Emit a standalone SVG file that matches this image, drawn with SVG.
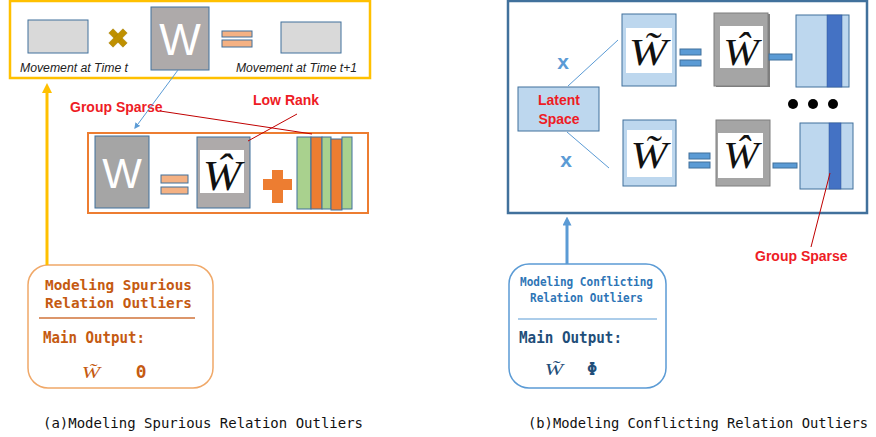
<svg xmlns="http://www.w3.org/2000/svg" width="876" height="437" viewBox="0 0 876 437">
<defs>
<style>
.lbl{font-family:"Liberation Sans",Arial,sans-serif;font-style:italic;font-size:12px;fill:#222}
.red{font-family:"Liberation Sans",Arial,sans-serif;font-weight:bold;font-size:14px;fill:#EE1C25}
.bigW{font-family:"Liberation Sans",Arial,sans-serif;fill:#fff;text-anchor:middle}
.math{font-family:"Liberation Serif","Times New Roman",serif;font-style:italic;fill:#111;text-anchor:middle}
.mono{font-family:"DejaVu Sans Mono","Liberation Mono",monospace;font-weight:bold}
.cap{font-family:"DejaVu Sans Mono","Liberation Mono",monospace;font-size:14px;fill:#111}
.gray1{fill:#D9D9D9;stroke:#41719C;stroke-width:1}
.wbox{fill:#AEAAAA;stroke:#41719C;stroke-width:1}
.eqO{fill:#F4B183;stroke:#41719C;stroke-width:1}
.eqB{fill:#5B9BD5;stroke:#41719C;stroke-width:1}
.lb{fill:#BDD7EE;stroke:#41719C;stroke-width:1}
.gb{fill:#A5A5A5;stroke:#7F7F7F;stroke-width:1}
.wh{fill:#fff}
.redline{stroke:#C00000;stroke-width:1;fill:none}
.blueline{stroke:#5B9BD5;stroke-width:1;fill:none}
.xb{font-family:"Liberation Sans",Arial,sans-serif;font-weight:bold;font-size:21px;fill:#5B9BD5;text-anchor:middle}
</style>
<marker id="arrGold" markerUnits="userSpaceOnUse" markerWidth="10" markerHeight="10" viewBox="0 0 10 10" refX="5" refY="5" orient="auto"><path d="M0,0 L10,5 L0,10 z" fill="#FFC000"/></marker>
<marker id="arrBlue" markerUnits="userSpaceOnUse" markerWidth="9" markerHeight="9" viewBox="0 0 10 10" refX="5" refY="5" orient="auto"><path d="M0,0 L10,5 L0,10 z" fill="#5B9BD5"/></marker>
<marker id="arrThin" markerUnits="userSpaceOnUse" markerWidth="6" markerHeight="6" viewBox="0 0 10 10" refX="8" refY="5" orient="auto"><path d="M0,0 L10,5 L0,10 z" fill="#5B9BD5"/></marker>
</defs>
<rect width="876" height="437" fill="#fff"/>

<!-- Panel (a) -->
<g id="panel-a-top">
<rect x="10" y="1" width="360" height="77" fill="#fff" stroke="#FFC000" stroke-width="2.5"/>
</g>
<g id="move-t">
<rect class="gray1" x="28" y="20" width="60" height="33"/>
<text class="lbl" x="20" y="72" textLength="108" lengthAdjust="spacingAndGlyphs">Movement at Time t</text>
</g>
<g id="times-gold" transform="translate(118,38) rotate(45)">
<rect x="-10" y="-3" width="20" height="6" fill="#BF9000" stroke="#A37C00" stroke-width="0.5"/>
<rect x="-3" y="-10" width="6" height="20" fill="#BF9000" stroke="#A37C00" stroke-width="0.5"/>
</g>
<g id="W-top">
<rect class="wbox" x="151" y="7" width="58" height="63"/>
<text class="bigW" x="180" y="55" font-size="44">W</text>
</g>
<g id="eq-top">
<rect class="eqO" x="222" y="31" width="30" height="6"/>
<rect class="eqO" x="222" y="40" width="30" height="7"/>
</g>
<g id="move-t1">
<rect class="gray1" x="281" y="22" width="60" height="31"/>
<text class="lbl" x="236" y="72" textLength="121" lengthAdjust="spacingAndGlyphs">Movement at Time t+1</text>
</g>

<g id="panel-a-mid">
<rect x="88" y="133" width="280" height="80" fill="#fff" stroke="#ED7D31" stroke-width="2"/>
</g>
<g id="W-mid">
<rect x="95" y="136" width="54" height="72" fill="#A5A5A5" stroke="#41719C"/>
<text class="bigW" x="122" y="188" font-size="42">W</text>
</g>
<g id="eq-mid">
<rect class="eqO" x="161" y="175" width="27" height="8"/>
<rect class="eqO" x="161" y="187" width="27" height="7"/>
</g>
<g id="What-mid">
<rect class="wbox" x="197" y="137" width="53" height="71"/>
<rect class="wh" x="200" y="150" width="44" height="43"/>
<text class="math" transform="translate(222,190) scale(1.1,1)" font-size="42">Ŵ</text>
</g>
<g id="plus">
<path d="M272,170 H283 V179 H292 V190 H283 V203 H272 V190 H263 V179 H272 Z" fill="#ED7D31"/>
</g>
<g id="stripes-a">
<rect x="297" y="137" width="14" height="72" fill="#A9D18E" stroke="#41719C"/>
<rect x="311" y="137" width="11" height="72" fill="#ED7D31" stroke="#41719C"/>
<rect x="322" y="137" width="9" height="72" fill="#A9D18E" stroke="#41719C"/>
<rect x="331" y="139" width="11" height="71" fill="#ED7D31" stroke="#41719C"/>
<rect x="342" y="137" width="10" height="72" fill="#A9D18E" stroke="#41719C"/>
</g>
<g id="lbl-group-sparse-a">
<text class="red" x="70" y="112">Group Sparse</text>
</g>
<g id="lbl-low-rank">
<text class="red" x="253" y="105">Low Rank</text>
</g>

<g id="box-a">
<rect x="28" y="265" width="185" height="123" rx="20" fill="#fff" stroke="#F0A868" stroke-width="1.5"/>
<text class="mono" x="45" y="290" font-size="14.5" fill="#C55A11" textLength="147" lengthAdjust="spacingAndGlyphs">Modeling Spurious</text>
<text class="mono" x="45" y="308" font-size="14.5" fill="#C55A11" textLength="147" lengthAdjust="spacingAndGlyphs">Relation Outliers</text>
<line x1="39" y1="318" x2="195" y2="318" stroke="#D0733A" stroke-width="1.5"/>
<text class="mono" x="43" y="343" font-size="15" fill="#C55A11" textLength="102" lengthAdjust="spacingAndGlyphs">Main Output:</text>
<text class="math" transform="translate(91,378) scale(1.3,1)" font-size="17" style="fill:#C55A11">W̃</text>
<text class="mono" x="141" y="378" font-size="17" fill="#C55A11" text-anchor="middle">Θ</text>
</g>

<!-- Panel (b) -->
<g id="panel-b">
<rect x="508" y="1" width="359" height="212" fill="#fff" stroke="#41719C" stroke-width="2.5"/>
</g>
<g id="latent">
<rect class="lb" x="518" y="87" width="81" height="44"/>
<text class="red" x="559" y="105" text-anchor="middle" style="font-size:14px">Latent</text>
<text class="red" x="559" y="124" text-anchor="middle" style="font-size:14px">Space</text>
</g>
<g id="x-top"><text class="xb" x="563" y="69">x</text></g>
<g id="x-bot"><text class="xb" x="566" y="167">x</text></g>
<g id="Wt-top">
<rect class="lb" x="622" y="14" width="54" height="72"/>
<rect class="wh" x="626" y="28" width="46" height="45"/>
<text class="math" transform="translate(648,65) scale(1.25,1)" font-size="37">W̃</text>
</g>
<g id="eq-b-top">
<rect class="eqB" x="680" y="49" width="21" height="6"/>
<rect class="eqB" x="680" y="60" width="21" height="6"/>
</g>
<g id="Wh-top">
<rect x="716" y="14" width="54" height="73" fill="#7F7F7F"/>
<rect class="gb" x="714" y="13" width="54" height="73"/>
<rect class="wh" x="720" y="26" width="43" height="42"/>
<text class="math" transform="translate(741,65) scale(1.15,1)" font-size="37">Ŵ</text>
</g>
<g id="minus-top"><rect class="eqB" x="769" y="54" width="23" height="6"/></g>
<g id="S-top">
<rect class="lb" x="796" y="15" width="53" height="72"/>
<rect x="827" y="15" width="15" height="72" fill="#4472C4" stroke="#2F5597" stroke-width="0.5"/>
</g>
<g id="dots">
<circle cx="793" cy="104" r="5" fill="#000"/>
<circle cx="813" cy="104" r="5" fill="#000"/>
<circle cx="833" cy="104" r="5" fill="#000"/>
</g>
<g id="Wt-bot">
<rect class="lb" x="623" y="120" width="53" height="66"/>
<rect class="wh" x="627" y="130" width="45" height="47"/>
<text class="math" transform="translate(649,168) scale(1.2,1)" font-size="37">W̃</text>
</g>
<g id="eq-b-bot">
<rect class="eqB" x="689" y="153" width="21" height="6"/>
<rect class="eqB" x="689" y="162" width="21" height="6"/>
</g>
<g id="Wh-bot">
<rect class="gb" x="716" y="120" width="54" height="66"/>
<rect class="wh" x="718" y="133" width="45" height="45"/>
<text class="math" transform="translate(741,168) scale(1.15,1)" font-size="37">Ŵ</text>
</g>
<g id="minus-bot"><rect class="eqB" x="773" y="163" width="24" height="5"/></g>
<g id="S-bot">
<rect class="lb" x="800" y="123" width="53" height="66"/>
<rect x="829" y="123" width="12" height="66" fill="#4472C4" stroke="#2F5597" stroke-width="0.5"/>
</g>
<g id="lbl-group-sparse-b">
<text class="red" x="755" y="261">Group Sparse</text>
</g>

<g id="box-b">
<rect x="509" y="264" width="157" height="124" rx="20" fill="#fff" stroke="#5B9BD5" stroke-width="1.5"/>
<text class="mono" x="520" y="286" font-size="12" fill="#2E75B6" textLength="133" lengthAdjust="spacingAndGlyphs">Modeling Conflicting</text>
<text class="mono" x="530" y="302" font-size="12" fill="#2E75B6" textLength="113" lengthAdjust="spacingAndGlyphs">Relation Outliers</text>
<line x1="518" y1="319" x2="657" y2="319" stroke="#5B9BD5" stroke-width="1.2"/>
<text class="mono" x="519" y="343" font-size="16" fill="#1F4E79" textLength="103" lengthAdjust="spacingAndGlyphs">Main Output:</text>
<text class="math" transform="translate(554,375) scale(1.3,1)" font-size="17" style="fill:#1F4E79">W̃</text>
<text class="mono" x="592" y="375" font-size="17" fill="#1F4E79" text-anchor="middle">Φ</text>
</g>

<!-- Captions -->
<g id="captions">
<text class="cap" x="43" y="428" textLength="320" lengthAdjust="spacingAndGlyphs">(a)Modeling Spurious Relation Outliers</text>
<text class="cap" x="528" y="428" textLength="340" lengthAdjust="spacingAndGlyphs">(b)Modeling Conflicting Relation Outliers</text>
</g>

<!-- Connectors -->
<g id="connectors">
<line x1="47" y1="265" x2="47" y2="88" stroke="#FFC000" stroke-width="3" marker-end="url(#arrGold)"/>
<line x1="178" y1="70" x2="135" y2="128" class="blueline" marker-end="url(#arrThin)"/>
<line x1="160" y1="111" x2="312" y2="134" class="redline"/>
<line x1="297" y1="114" x2="248" y2="141" class="redline"/>
<line x1="568" y1="86" x2="618" y2="40" class="blueline"/>
<line x1="567" y1="132" x2="609" y2="168" class="blueline"/>
<line x1="830" y1="173" x2="811" y2="247" class="redline"/>
<line x1="567" y1="264" x2="567" y2="221" stroke="#5B9BD5" stroke-width="3" marker-end="url(#arrBlue)"/>
</g>
</svg>
